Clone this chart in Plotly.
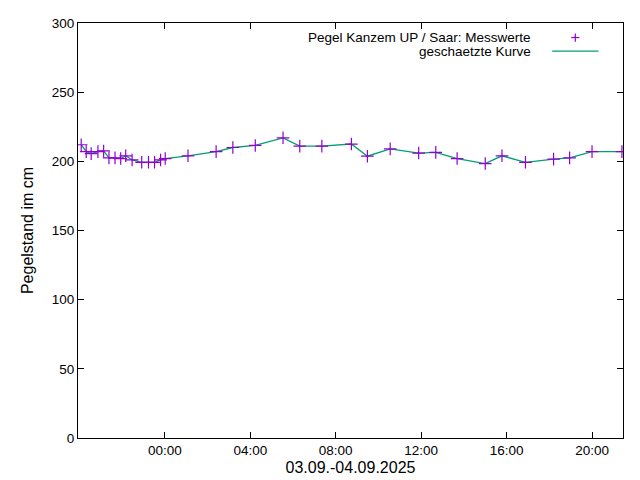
import plotly.graph_objects as go

times = ["2025-09-03 20:05","2025-09-03 20:19","2025-09-03 20:33","2025-09-03 20:52","2025-09-03 21:08",
         "2025-09-03 21:23","2025-09-03 21:40","2025-09-03 21:56","2025-09-03 22:10","2025-09-03 22:28",
         "2025-09-03 22:55","2025-09-03 23:14","2025-09-03 23:31","2025-09-03 23:48","2025-09-04 00:01",
         "2025-09-04 01:05","2025-09-04 02:24","2025-09-04 03:11","2025-09-04 04:14","2025-09-04 05:32",
         "2025-09-04 06:19","2025-09-04 07:21","2025-09-04 08:44","2025-09-04 09:29","2025-09-04 10:33",
         "2025-09-04 11:53","2025-09-04 12:41","2025-09-04 13:41","2025-09-04 15:00","2025-09-04 15:47",
         "2025-09-04 16:53","2025-09-04 18:12","2025-09-04 18:57","2025-09-04 20:00","2025-09-04 21:24"]
levels = [212,207,205.6,207,207.5,202.5,202.5,202,204,201,199.3,199.3,199.3,201,202,
          204,207,210,211.5,217,211,211,212.5,203.7,209,206,206.5,202,198.4,204,
          199.3,201.6,202.5,207,207]
tickvals = ["2025-09-04 00:00","2025-09-04 04:00","2025-09-04 08:00","2025-09-04 12:00",
            "2025-09-04 16:00","2025-09-04 20:00"]
ticktext = ["00:00","04:00","08:00","12:00","16:00","20:00"]
legend_names = ["Pegel Kanzem UP / Saar: Messwerte", "geschaetzte Kurve"]

PURPLE = "#9400d3"
GREEN = "#009e73"

fig = go.Figure()
fig.add_trace(go.Scatter(x=times, y=levels, mode="lines", name=legend_names[1], showlegend=False,
                         line=dict(color=GREEN, width=1.3)))
fig.add_trace(go.Scatter(x=times, y=levels, mode="markers", name=legend_names[0], showlegend=False,
                         marker=dict(symbol="cross-thin", size=9, color=PURPLE,
                                     line=dict(width=1.2, color=PURPLE))))

# gnuplot-style legend: right-aligned text followed by sample
fig.add_annotation(xref="paper", yref="paper", x=0.835, y=0.965, text=legend_names[0],
                   showarrow=False, xanchor="right", yanchor="middle")
fig.add_annotation(xref="paper", yref="paper", x=0.835, y=0.932, text=legend_names[1],
                   showarrow=False, xanchor="right", yanchor="middle")
fig.add_shape(type="line", xref="paper", yref="paper", x0=0.87, x1=0.955, y0=0.932, y1=0.932,
              line=dict(color=GREEN, width=1.3))
fig.add_shape(type="line", xref="paper", yref="paper", x0=0.9125, x1=0.9125, y0=0.955, y1=0.975,
              line=dict(color=PURPLE, width=1.2))
fig.add_shape(type="line", xref="paper", yref="paper", x0=0.905, x1=0.92, y0=0.965, y1=0.965,
              line=dict(color=PURPLE, width=1.2))

ax = dict(showline=True, linecolor="black", linewidth=1, mirror="ticks", ticks="inside",
          ticklen=6, tickcolor="black", showgrid=False, zeroline=False, automargin=False)
fig.update_xaxes(**ax, range=["2025-09-03 19:56","2025-09-04 21:27"], tickvals=tickvals, ticktext=ticktext,
                 title=dict(text="03.09.-04.09.2025", standoff=4))
fig.update_yaxes(**ax, range=[0,300], dtick=50, title=dict(text="Pegelstand im cm", standoff=14))
fig.update_layout(width=640, height=480, plot_bgcolor="white", paper_bgcolor="white",
                  margin=dict(l=70, r=25, t=15, b=50, autoexpand=False), showlegend=False,
                  font=dict(family="Liberation Sans, Arial", size=13.5, color="black"))
fig.write_html("out.html")
